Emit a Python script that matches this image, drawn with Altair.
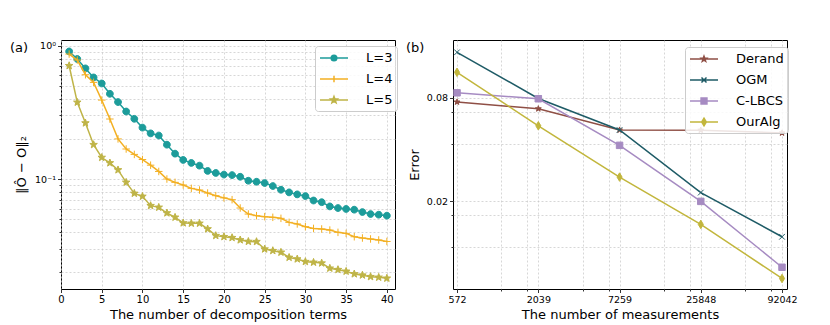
import math
import altair as alt
import pandas as pd

# ---------------- panel (a) data ----------------
terms = list(range(1, 41))
series_a = ["L=3", "L=4", "L=5"]
err_L3 = [0.906, 0.795, 0.676, 0.578, 0.521, 0.436, 0.378, 0.321, 0.283, 0.243,
          0.220, 0.212, 0.181, 0.155, 0.139, 0.132, 0.126, 0.115, 0.111, 0.108,
          0.107, 0.104, 0.0971, 0.0954, 0.0933, 0.0886, 0.0831, 0.0794, 0.0767, 0.0745,
          0.0690, 0.0670, 0.0623, 0.0606, 0.0596, 0.0589, 0.0565, 0.0546, 0.0540, 0.0531]
err_L4 = [0.866, 0.781, 0.606, 0.531, 0.391, 0.282, 0.200, 0.168, 0.153, 0.140,
          0.127, 0.114, 0.100, 0.0944, 0.0902, 0.0851, 0.0827, 0.0785, 0.0750, 0.0722,
          0.0700, 0.0606, 0.0546, 0.0531, 0.0522, 0.0516, 0.0507, 0.0473, 0.0460, 0.0439,
          0.0426, 0.0422, 0.0414, 0.0398, 0.0391, 0.0369, 0.0361, 0.0355, 0.0349, 0.0340]
err_L5 = [0.708, 0.376, 0.263, 0.181, 0.145, 0.132, 0.117, 0.0944, 0.0780, 0.0741,
          0.0631, 0.0613, 0.0556, 0.0516, 0.0468, 0.0465, 0.0465, 0.0422, 0.0376, 0.0369,
          0.0363, 0.0349, 0.0340, 0.0339, 0.0298, 0.0290, 0.0282, 0.0258, 0.0251, 0.0240,
          0.0237, 0.0234, 0.0214, 0.0209, 0.0203, 0.0194, 0.0190, 0.0185, 0.0183, 0.0180]
colors_a = ["#1c9c9a", "#f3b023", "#bfb447"]
x_ticks_a = [0, 5, 10, 15, 20, 25, 30, 35, 40]
y_grid_a = [0.02, 0.03, 0.04, 0.05, 0.06, 0.07, 0.08, 0.09, 0.1,
            0.2, 0.3, 0.4, 0.5, 0.6, 0.7, 0.8, 0.9, 1.0]

# ---------------- panel (b) data ----------------
measurements = [572, 2039, 7259, 25848, 92042]
series_b = ["Derand", "OGM", "C-LBCS", "OurAlg"]
err_derand = [0.0758, 0.0692, 0.0520, 0.0519, 0.0500]
err_ogm = [0.148, 0.0795, 0.0520, 0.0224, 0.01236]
err_clbcs = [0.0858, 0.0792, 0.0423, 0.0199, 0.0082]
err_ouralg = [0.113, 0.0550, 0.0276, 0.0146, 0.00705]
colors_b = ["#8f4f45", "#1e5b66", "#a68bc2", "#c2b63c"]
y_labels_b = [0.08, 0.02]
y_minor_b = [0.0108, 0.0166, 0.0430, 0.0662]


# ---------------- marker paths ----------------
def circle_p(k):
    return f"M{k},0A{k},{k} 0 1,1 {-k},0A{k},{k} 0 1,1 {k},0Z"


def plus_p(k):
    return f"M{-k},0L{k},0M0,{-k}L0,{k}"


def x_p(k):
    return f"M{-k},{-k}L{k},{k}M{-k},{k}L{k},{-k}"


def square_p(k):
    return f"M{-k},{-k}L{k},{-k}L{k},{k}L{-k},{k}Z"


def diamond_p(k):
    return f"M0,{-k}L{0.6*k:.3f},0L0,{k}L{-0.6*k:.3f},0Z"


def star_p(k):
    pts = []
    for i in range(10):
        ang = -math.pi / 2 + i * math.pi / 5
        rad = k if i % 2 == 0 else 0.42 * k
        pts.append(f"{rad*math.cos(ang):.3f},{rad*math.sin(ang):.3f}")
    return "M" + "L".join(pts) + "Z"


LINE = "M-2,0L2,0"

markers_a = [circle_p(1), plus_p(1), star_p(1)]
sizes_a = [46, 56, 62]
legend_a = [LINE + circle_p(0.4), LINE + plus_p(0.48), LINE + star_p(0.5)]

markers_b = [star_p(1), x_p(1), square_p(1), diamond_p(1)]
sizes_b = [38, 32, 42, 72]
legend_b = [LINE + star_p(0.4), LINE + x_p(0.36), LINE + square_p(0.42), LINE + diamond_p(0.55)]

# ---------------- tables ----------------
rows_a = []
for s, vals in zip(series_a, [err_L3, err_L4, err_L5]):
    for t, v in zip(terms, vals):
        rows_a.append({"term": t, "err": v, "series": s})
df_a = pd.DataFrame(rows_a)

rows_b = []
for s, vals in zip(series_b, [err_derand, err_ogm, err_clbcs, err_ouralg]):
    for m, v in zip(measurements, vals):
        rows_b.append({"meas": m, "err": v, "series": s})
df_b = pd.DataFrame(rows_b)

FONT = "DejaVu Sans"


def make_legend(x, y):
    return alt.Legend(title=None, orient="none", legendX=x, legendY=y,
                      symbolSize=196, symbolOffset=7, labelOffset=24,
                      symbolStrokeWidth=1.5, labelFontSize=13, labelFont=FONT,
                      labelColor="black", rowPadding=6, padding=4,
                      strokeColor="#cccccc", cornerRadius=3,
                      fillColor="rgba(255,255,255,0.85)")


def panel(df, xenc, yenc, series, colors, markers, sizes, leg_paths, leg_xy, tag, tag_x):
    layers = []
    for s, c, m, sz in zip(series, colors, markers, sizes):
        base = alt.Chart(df).transform_filter(alt.datum.series == s)
        layers.append(base.mark_line(color=c, strokeWidth=1.5).encode(x=xenc, y=yenc))
        layers.append(base.mark_point(shape=m, size=sz, filled=True, fill=c, stroke=c,
                                      strokeWidth=1.0, opacity=1).encode(x=xenc, y=yenc))
    lg = make_legend(*leg_xy)
    layers.append(
        alt.Chart(df).mark_point(filled=True, strokeWidth=1.5, clip=True, opacity=1).encode(
            x=alt.value(-400), y=alt.value(-400),
            color=alt.Color("series:N", scale=alt.Scale(domain=series, range=colors), legend=lg),
            stroke=alt.Stroke("series:N", scale=alt.Scale(domain=series, range=colors), legend=lg),
            shape=alt.Shape("series:N", scale=alt.Scale(domain=series, range=leg_paths), legend=lg),
        )
    )
    layers.append(
        alt.Chart(pd.DataFrame({"lab": [tag]})).mark_text(
            align="left", baseline="middle", fontSize=13, font=FONT, color="black"
        ).encode(x=alt.value(tag_x), y=alt.value(8), text="lab:N")
    )
    return alt.layer(*layers).properties(width=334, height=249)


# ---------- panel (a) encodings ----------
xa = alt.X("term:Q", scale=alt.Scale(domain=[0, 41], nice=False, zero=False),
           axis=alt.Axis(values=x_ticks_a, title="The number of decomposition terms",
                         titleY=25, titleBaseline="middle", labelFontSize=10, tickSize=3.5))
ya = alt.Y("err:Q", scale=alt.Scale(type="log", domain=[0.01496, 1.104], nice=False),
           axis=alt.Axis(values=y_grid_a,
                         labelExpr="datum.value == 1 ? '10⁰' : (abs(datum.value - 0.1) < 1e-9 ? '10⁻¹' : '')",
                         tickSize={"condition": {"test": "datum.value == 1 || abs(datum.value - 0.1) < 1e-9", "value": 3.5}, "value": 2},
                         title="‖Ô − O‖₂", titleX=-40, titleBaseline="middle",
                         labelFontSize=9.5, titleFontSize=13))

# ---------- panel (b) encodings ----------
x_grid_b = sorted(measurements + [f * t for t in measurements[:-1] for f in (2, 3)])
meas_str = ",".join(str(m) for m in measurements)
xb = alt.X("meas:Q", scale=alt.Scale(type="log", domain=[537, 99500], nice=False),
           axis=alt.Axis(values=x_grid_b,
                         labelExpr=f"indexof([{meas_str}], datum.value) >= 0 ? '' + datum.value : ''",
                         tickSize={"condition": {"test": f"indexof([{meas_str}], datum.value) >= 0", "value": 3.5}, "value": 2},
                         title="The number of measurements", titleY=25, titleBaseline="middle",
                         labelFontSize=9.5))
y_grid_b = sorted(y_labels_b + y_minor_b)
yb = alt.Y("err:Q", scale=alt.Scale(type="log", domain=[0.00612, 0.1746], nice=False),
           axis=alt.Axis(values=y_grid_b,
                         labelExpr="(datum.value == 0.08 || datum.value == 0.02) ? format(datum.value, '.2f') : ''",
                         tickSize={"condition": {"test": "datum.value == 0.08 || datum.value == 0.02", "value": 3.5}, "value": 2},
                         title="Error", titleX=-39, titleBaseline="middle", labelFontSize=9.5))

pa = panel(df_a, xa, ya, series_a, colors_a, markers_a, sizes_a, legend_a, (254, 6), "(a)", -51)
pb = panel(df_b, xb, yb, series_b, colors_b, markers_b, sizes_b, legend_b, (232, 7), "(b)", -47)

chart = (
    alt.hconcat(pa, pb, spacing=58, bounds="flush")
    .resolve_scale(color="independent", stroke="independent", shape="independent")
    .properties(padding={"left": 1, "top": 31, "right": 5, "bottom": 5})
    .configure(font=FONT)
    .configure_view(stroke="black", strokeWidth=1)
    .configure_axis(domain=False, labelFont=FONT, titleFont=FONT, labelColor="black",
                    titleColor="black", tickColor="black", tickWidth=0.8,
                    gridColor="#c6c6c6", gridDash=[2, 2], gridWidth=0.7,
                    labelOverlap=False, labelFlush=False, titleFontWeight="normal",
                    titleFontSize=13, labelPadding=2, grid=True)
)

chart.save("out.html", embed_options={"renderer": "svg", "actions": False})
